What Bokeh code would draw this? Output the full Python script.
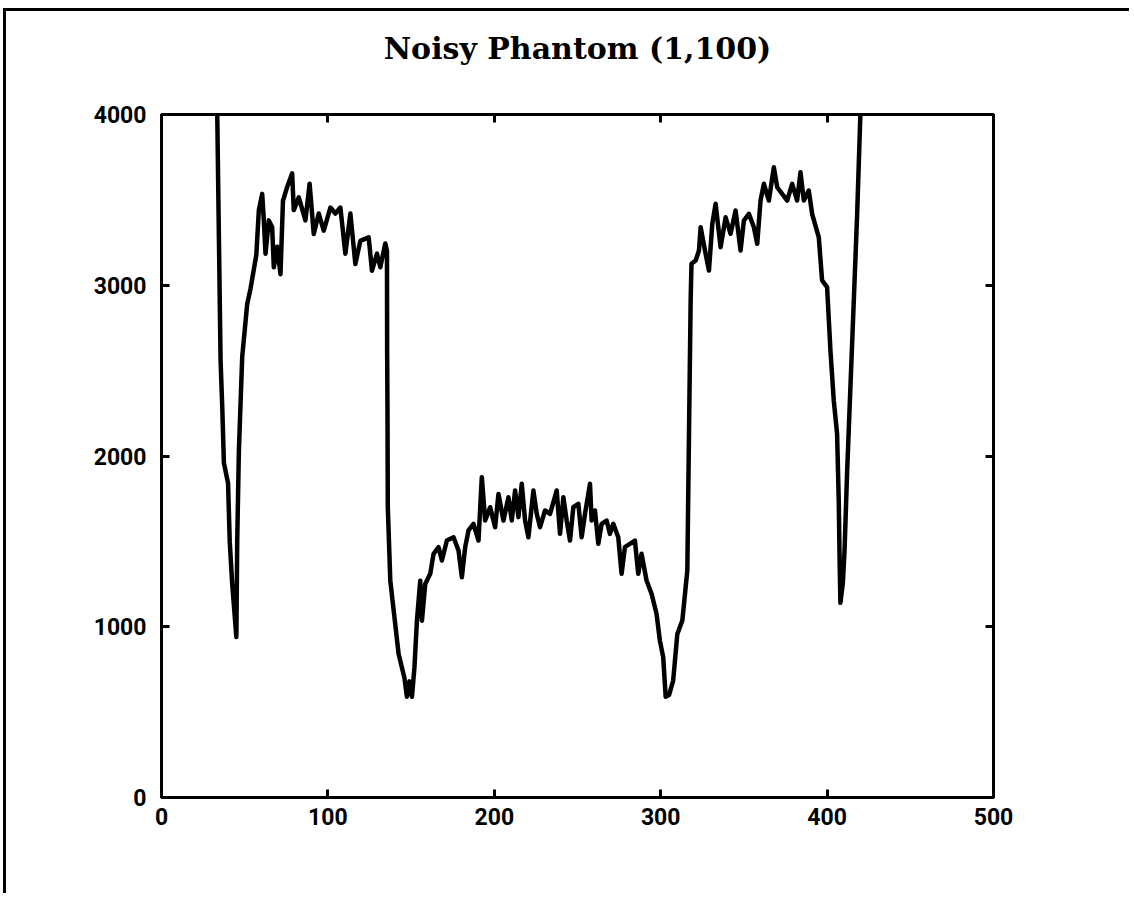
from bokeh.plotting import figure
from bokeh.models import LinearAxis, FixedTicker, Range1d
from bokeh.embed import file_html
from bokeh.resources import INLINE

title_text = "Noisy Phantom (1,100)"
x_ticks = [0, 100, 200, 300, 400, 500]
y_ticks = [0, 1000, 2000, 3000, 4000]

pixel_index = [
    32, 33.5, 35.5, 36.5, 37.5, 40, 41, 42.5, 45, 45.5, 46.5, 48.5, 51.5, 53.5, 57,
    58.5, 60.5, 61.5, 62.5, 64.5, 66.5, 67.5, 69.5, 71.5, 73, 75.5, 78.5, 79.5, 82.5,
    86.5, 89, 91.5, 94.5, 97.5, 101.5, 104.5, 107.5, 110.5, 113.5, 116.5, 119.5,
    124.5, 126.5, 129.5, 131.5, 134.5, 135.5, 135.6, 135.8, 136, 137.5, 142.5, 146,
    147.5, 149, 150.5, 152, 153.5, 155.5, 156.5, 158.5, 161.5, 163.5, 166.5, 168.5,
    171.5, 175.5, 178.5, 180.5, 182.5, 184.5, 187.5, 190.5, 192.5, 194.5, 197.5,
    200.5, 202.5, 205.5, 208.5, 210.5, 212.5, 214.5, 216.5, 218.5, 220.5, 223.5,
    225.5, 227.5, 230.5, 233.5, 237.5, 239.5, 241.5, 243.5, 245.5, 247.5, 250.5,
    252.5, 254.5, 257.5, 258.5, 260.5, 262.5, 264.5, 267.5, 269.5, 271.5, 274.5,
    276.5, 278.5, 281.5, 284.5, 286.5, 288.5, 291.5, 294.5, 297.5, 299.5, 301.5,
    303, 305, 307.5, 310, 313, 316, 317, 318, 318.5, 321, 323, 324, 327, 329, 331,
    333, 336, 339, 342, 345, 348, 350, 353, 356, 358, 360, 362, 365, 368, 370, 373,
    376, 379, 382, 384, 386, 389, 391, 395, 397, 400, 402, 404, 406, 407, 407.5,
    408, 409.5, 410.5, 412, 414, 416, 418, 420, 421,
]
intensity = [
    4600, 4000, 2560, 2290, 1960, 1840, 1500, 1250, 940, 1500, 2030, 2580, 2890, 2980, 3180,
    3440, 3535, 3380, 3185, 3380, 3340, 3105, 3225, 3065, 3495, 3575, 3655, 3440, 3515,
    3380, 3595, 3300, 3420, 3320, 3455, 3420, 3455, 3185, 3420, 3125, 3260,
    3280, 3085, 3185, 3105, 3245, 3200, 2620, 2270, 1700, 1270, 840, 700,
    590, 680, 590, 760, 1035, 1270, 1035, 1250, 1310, 1427, 1466, 1388,
    1505, 1524, 1447, 1290, 1466, 1564, 1603, 1505, 1876, 1622, 1700,
    1583, 1778, 1622, 1758, 1622, 1798, 1642, 1837, 1622, 1524, 1798,
    1661, 1583, 1681, 1661, 1798, 1544, 1758, 1622, 1505, 1700, 1720,
    1524, 1661, 1837, 1622, 1681, 1486, 1603, 1622, 1544, 1603, 1524,
    1310, 1466, 1486, 1505, 1310, 1427, 1271, 1193, 1076, 919, 822,
    590, 600, 685, 958, 1037, 1330, 2130, 2911, 3126, 3145, 3203, 3340, 3184, 3086, 3359,
    3477, 3223, 3398, 3301, 3438, 3203, 3379, 3418, 3340, 3243, 3496, 3594, 3496, 3691, 3574, 3535,
    3496, 3594, 3496, 3662, 3496, 3555, 3418, 3281, 3028, 2989, 2618, 2325, 2130, 1740, 1400,
    1140, 1260, 1450, 1900, 2400, 2900, 3400, 4000, 4500,
]

p = figure(
    width=1126, height=885, output_backend="svg", toolbar_location=None,
    x_range=Range1d(0, 500), y_range=Range1d(0, 4000),
    min_border_left=155, min_border_right=139, min_border_top=103, min_border_bottom=99,
    background_fill_color="white", border_fill_color="white",
)
p.styles = {
    "border-left": "3px solid black",
    "border-top": "3px solid black",
    "margin-left": "3px",
    "margin-top": "8px",
}

# trailing empty line lifts the title above the frame
p.title.text = title_text + "\n"
p.title.align = "center"
p.title.text_font = "DejaVu Serif"
p.title.text_font_style = "bold"
p.title.text_font_size = "30px"
p.title.text_color = "black"
p.title.standoff = 27

p.xgrid.visible = False
p.ygrid.visible = False
p.outline_line_color = "black"
p.outline_line_width = 3

def style_axis(ax, ticks, show_labels):
    ax.ticker = FixedTicker(ticks=ticks)
    ax.axis_line_color = "black"
    ax.axis_line_width = 3
    ax.major_tick_line_color = "black"
    ax.major_tick_line_width = 3
    ax.major_tick_in = 8
    ax.major_tick_out = 0
    ax.minor_tick_line_color = None
    if show_labels:
        ax.major_label_text_font = "Roboto"
        ax.major_label_text_font_style = "bold"
        ax.major_label_text_font_size = "23px"
        ax.major_label_text_color = "black"
    else:
        ax.major_label_overrides = {t: "" for t in ticks}
        ax.major_label_standoff = 0

style_axis(p.xaxis[0], x_ticks, True)
style_axis(p.yaxis[0], y_ticks, True)
p.xaxis[0].major_label_standoff = 10
p.yaxis[0].major_label_standoff = 15

top_axis = LinearAxis()
right_axis = LinearAxis()
style_axis(top_axis, x_ticks, False)
style_axis(right_axis, y_ticks, False)
p.add_layout(top_axis, "above")
p.add_layout(right_axis, "right")

p.line(pixel_index, intensity, line_color="black", line_width=4.5, line_join="round")

open("out.html", "w").write(file_html(p, INLINE))
